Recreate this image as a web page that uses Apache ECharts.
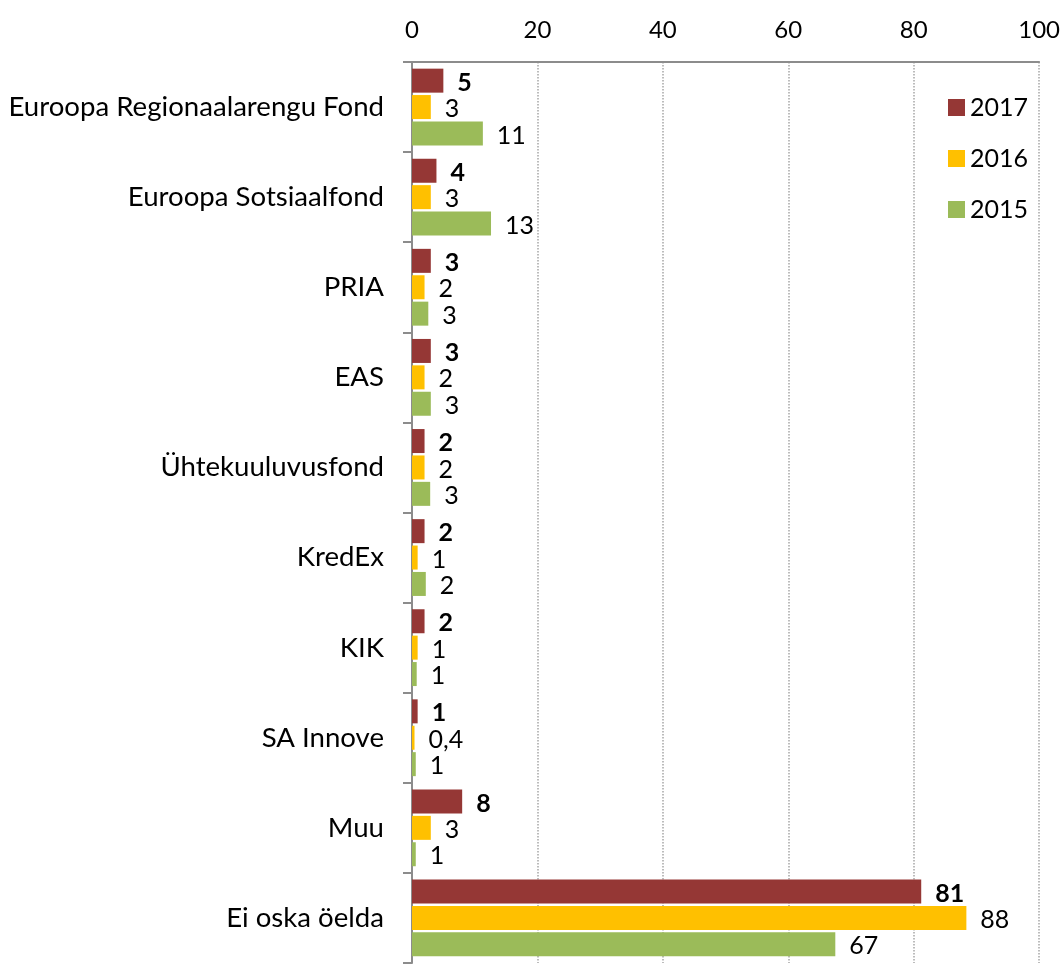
<!DOCTYPE html>
<html>
<head>
<meta charset="utf-8">
<script src="https://cdn.jsdelivr.net/npm/echarts@6/dist/echarts.min.js"></script>
<style>
html,body{margin:0;padding:0;background:#fff;}
#chart{width:1063px;height:965px;}
</style>
</head>
<body>
<div id="chart"></div>
<script>
const categories = ['Euroopa Regionaalarengu Fond','Euroopa Sotsiaalfond','PRIA','EAS','Ühtekuuluvusfond','KredEx','KIK','SA Innove','Muu','Ei oska öelda'];
const seriesNames = ['2017','2016','2015'];
const values2017 = [5.0, 3.9, 3.0, 3.0, 2.0, 2.0, 2.0, 0.9, 8.0, 81.2];
const values2016 = [3.0, 3.0, 2.0, 2.0, 2.0, 0.9, 0.9, 0.4, 3.0, 88.4];
const values2015 = [11.3, 12.6, 2.6, 3.0, 2.9, 2.2, 0.75, 0.6, 0.6, 67.5];
const labels2017 = ['5','4','3','3','2','2','2','1','8','81'];
const labels2016 = ['3','3','2','2','2','1','1','0,4','3','88'];
const labels2015 = ['11','13','3','3','3','2','1','1','1','67'];
const xTicks = [0, 20, 40, 60, 80, 100];

const colors = ['#953735', '#FFC000', '#9BBB59'];
const FONT = 'Lato';

function makeSeries(name, vals, labs, color, bold) {
  return {
    name: name,
    type: 'bar',
    data: vals,
    barWidth: 24,
    barGap: '10%',
    itemStyle: { color: color },
    label: {
      show: true,
      position: 'right',
      distance: 14,
      offset: [0, 2],
      fontFamily: FONT,
      fontSize: 25,
      fontWeight: bold ? 'bold' : 'normal',
      color: '#000',
      formatter: function (p) { return labs[p.dataIndex]; }
    }
  };
}

const chart = echarts.init(document.getElementById('chart'));
chart.setOption({
  animation: false,
  backgroundColor: '#fff',
  textStyle: { fontFamily: FONT },
  grid: { left: 412, right: 23, top: 62, bottom: 2, containLabel: false },
  legend: {
    orient: 'vertical',
    left: 943,
    top: 90,
    itemWidth: 17,
    itemHeight: 17,
    itemGap: 26,
    icon: 'rect',
    data: seriesNames,
    textStyle: { fontFamily: FONT, fontSize: 25, color: '#000' }
  },
  xAxis: {
    type: 'value',
    position: 'top',
    min: xTicks[0],
    max: xTicks[xTicks.length - 1],
    interval: xTicks[1] - xTicks[0],
    axisLine: { show: true, lineStyle: { color: '#8c8c8c', width: 2 } },
    axisTick: { show: false },
    axisLabel: { fontFamily: FONT, fontSize: 24, color: '#000', margin: 20 },
    splitLine: { show: true, lineStyle: { color: '#a6a6a6', type: 'dotted', width: 1.5 } }
  },
  yAxis: {
    type: 'category',
    inverse: true,
    data: categories,
    axisLine: { show: true, lineStyle: { color: '#8c8c8c', width: 2 } },
    axisTick: { show: true, inside: false, length: 9, lineStyle: { color: '#8c8c8c', width: 2 } },
    axisLabel: { fontFamily: FONT, fontSize: 27.6, color: '#000', margin: 28 }
  },
  series: [
    makeSeries(seriesNames[0], values2017, labels2017, colors[0], true),
    makeSeries(seriesNames[1], values2016, labels2016, colors[1], false),
    makeSeries(seriesNames[2], values2015, labels2015, colors[2], false)
  ]
});
</script>
</body>
</html>
